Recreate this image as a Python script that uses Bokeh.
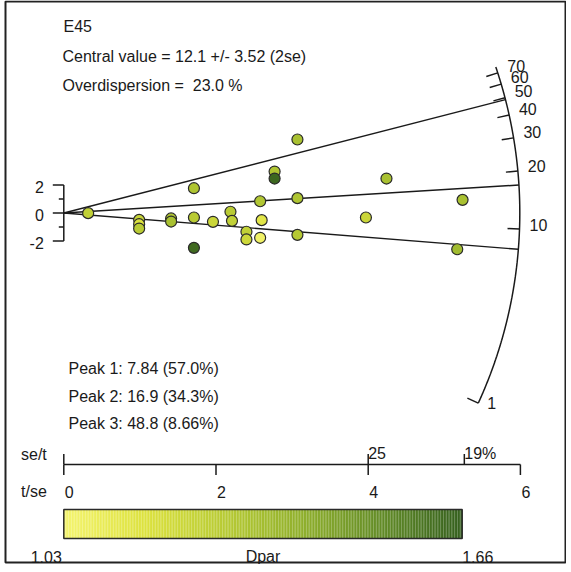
import numpy as np
from bokeh.plotting import figure
from bokeh.models import Range1d, LinearColorMapper, ColumnDataSource
from bokeh.core.properties import value
from bokeh.embed import file_html
from bokeh.resources import INLINE

# ---------------- data ----------------
sample_name = "E45"
central_age = 12.1
central_text = "Central value = 12.1 +/- 3.52 (2se)"
overdisp_text = "Overdispersion = \u00a023.0 %"
peak_ages = [7.84, 16.9, 48.8]
peak_texts = ["Peak 1: 7.84 (57.0%)", "Peak 2: 16.9 (34.3%)", "Peak 3: 48.8 (8.66%)"]

# precision (t/se) and standardised estimate of each grain
precision = [0.32, 0.99, 0.99, 0.99, 1.41, 1.41, 1.71, 1.71, 1.71, 1.96, 2.19, 2.21, 2.40,
             2.40, 2.58, 2.60, 2.58, 2.77, 2.77, 3.07, 3.07, 3.07, 3.97, 4.24, 5.24, 5.17]
std_est = [-0.01, -0.49, -0.80, -1.11, -0.39, -0.61, 1.77, -0.32, -2.49, -0.63, 0.09, -0.56, -1.34,
           -1.89, 0.84, -0.51, -1.77, 2.96, 2.46, 5.25, 1.06, -1.56, -0.32, 2.46, 0.94, -2.59]
dpar = [1.25, 1.23, 1.16, 1.28, 1.31, 1.33, 1.31, 1.28, 1.63, 1.22, 1.28, 1.25, 1.25,
        1.21, 1.30, 1.13, 1.05, 1.31, 1.64, 1.33, 1.31, 1.29, 1.22, 1.33, 1.33, 1.35]
dpar_low, dpar_high = 1.03, 1.66
dpar_title = "Dpar"

arc_ticks = [1, 10, 20, 30, 40, 50, 60, 70]
arc_max_age = 76
tse_ticks = [0, 2, 4, 6]
set_ticks_pct = [25, 19]
set_labels = ["25", "19%"]
y_ticks = [-2, -1, 0, 1, 2]
y_labels = {-2: "-2", 0: "0", 2: "2"}

# ---------------- layout (picture pixel coordinates) ----------------
W, H = 566, 564
PAGE_L, PAGE_T = 0, 8
ORIGIN_X, ORIGIN_Y = 63.3, 220.5     # position of the radial origin
PX, PY = 76.1, 14.0                  # pixels per unit along x and y
R = 456.0                            # radius of the age arc (px)
CB_L, CB_R = 63.3, 461.7             # colour bar extent

x_range = Range1d((PAGE_L - ORIGIN_X) / PX, (PAGE_L + W - ORIGIN_X) / PX)
y_range = Range1d((ORIGIN_Y - (PAGE_T + H)) / PY, (ORIGIN_Y - PAGE_T) / PY)

p = figure(width=W, height=H, x_range=x_range, y_range=y_range,
           output_backend="svg", toolbar_location=None, min_border=0,
           x_axis_location=None, y_axis_location=None, title=None)
p.grid.visible = False
p.outline_line_color = None
p.background_fill_color = "white"
p.border_fill_color = "white"

p.extra_x_ranges = {
    "px": Range1d(PAGE_L, PAGE_L + W),
    "dpar": Range1d(dpar_low - (CB_L - PAGE_L) * (dpar_high - dpar_low) / (CB_R - CB_L),
                    dpar_high + (PAGE_L + W - CB_R) * (dpar_high - dpar_low) / (CB_R - CB_L)),
}
p.extra_y_ranges = {"px": Range1d(PAGE_T + H, PAGE_T)}

FONT = value("Liberation Sans")
FS = "16px"
INK = "#1a1a1a"

# frame border
p.quad(left=[5], right=[565], top=[9], bottom=[570], x_range_name="px", y_range_name="px",
       fill_color=None, line_color="#222222", line_width=2)


def radial(t, r_px):
    s = np.log(np.asarray(t, dtype=float) / central_age)
    th = np.arctan(s * PY / PX)
    return r_px * np.cos(th) / PX, r_px * np.sin(th) / PY


# arc
t_arc = np.geomspace(arc_ticks[0], arc_max_age, 300)
ax, ay = radial(t_arc, R)
p.line(ax, ay, line_color=INK, line_width=1.5)

# arc ticks
tx0, ty0 = radial(arc_ticks, R - 12)
tx1, ty1 = radial(arc_ticks, R)
p.segment(tx0, ty0, tx1, ty1, line_color=INK, line_width=1.5)
lx, ly = radial(arc_ticks, R + 10)
p.text(lx, ly, text=[str(t) for t in arc_ticks], text_font=FONT, text_font_size=FS,
       text_align="left", text_baseline="middle", y_offset=-4, text_color=INK)

# peak lines
ex, ey = radial(peak_ages, R)
p.multi_line([[0, x] for x in ex], [[0, y] for y in ey], line_color=INK, line_width=1.4)

# y bracket
p.line([0, 0], [min(y_ticks), max(y_ticks)], line_color=INK, line_width=1.5)
for yt in y_ticks:
    ln = 11 if yt in y_labels else 5
    p.segment(x0=-ln / PX, y0=yt, x1=0, y1=yt, line_color=INK, line_width=1.5)
p.text([-20 / PX] * len(y_labels), list(y_labels.keys()), text=list(y_labels.values()),
       text_font=FONT, text_font_size=FS, text_align="right", text_baseline="middle",
       y_offset=2, text_color=INK)

# points
anchors = ["#F4F46E", "#DDE23E", "#B8CB34", "#8FAF2C", "#628B27", "#35601E"]


def hex2rgb(h):
    return np.array([int(h[i:i + 2], 16) for i in (1, 3, 5)], dtype=float)


anc = np.array([hex2rgb(a) for a in anchors])
pos = np.linspace(0, 1, len(anchors))
palette = []
for f in np.linspace(0, 1, 256):
    rgb = [np.interp(f, pos, anc[:, k]) for k in range(3)]
    palette.append("#%02x%02x%02x" % tuple(int(round(c)) for c in rgb))
mapper = LinearColorMapper(palette=palette, low=dpar_low, high=dpar_high)

src = ColumnDataSource(dict(x=precision, y=std_est, d=dpar))
p.scatter("x", "y", source=src, size=11, fill_color={"field": "d", "transform": mapper},
          line_color="#2a2a2a", line_width=1.2)

# bottom precision axis
AXIS_Y = 472
p.segment(x0=tse_ticks[0], y0=AXIS_Y, x1=tse_ticks[-1], y1=AXIS_Y, y_range_name="px",
          line_color=INK, line_width=1.5)
p.segment(x0=tse_ticks, y0=[AXIS_Y] * len(tse_ticks), x1=tse_ticks, y1=[AXIS_Y + 10.5] * len(tse_ticks),
          y_range_name="px", line_color=INK, line_width=1.5)
set_x = [0] + [100.0 / s for s in set_ticks_pct]
p.segment(x0=set_x, y0=[AXIS_Y] * len(set_x), x1=set_x, y1=[AXIS_Y - 10.5] * len(set_x),
          y_range_name="px", line_color=INK, line_width=1.5)
p.text(tse_ticks, [499] * len(tse_ticks), text=[str(t) for t in tse_ticks], y_range_name="px",
       text_font=FONT, text_font_size=FS, text_align="left", text_baseline="alphabetic",
       x_offset=1, text_color=INK)
p.text(set_x[1:], [460.5] * len(set_labels), text=set_labels, y_range_name="px",
       text_font=FONT, text_font_size=FS, text_align="left", text_baseline="alphabetic",
       x_offset=0, text_color=INK)
p.text([20.5, 20.5], [462, 499], text=["se/t", "t/se"], x_range_name="px", y_range_name="px",
       text_font=FONT, text_font_size=FS, text_align="left", text_baseline="alphabetic",
       text_color=INK)

# colour bar
edges = np.linspace(dpar_low, dpar_high, len(palette) + 1)
p.quad(left=edges[:-1], right=edges[1:], bottom=546, top=517, x_range_name="dpar",
       y_range_name="px", fill_color=palette, line_color=None)
p.quad(left=[dpar_low], right=[dpar_high], bottom=[546], top=[517], x_range_name="dpar",
       y_range_name="px", fill_color=None, line_color="#2a2a2a", line_width=1.5)
p.text([dpar_low], [564], text=["%.2f" % dpar_low], x_range_name="dpar", y_range_name="px",
       text_font=FONT, text_font_size=FS, text_align="right", text_baseline="alphabetic",
       x_offset=-2, text_color=INK)
p.text([dpar_high], [564], text=["%.2f" % dpar_high], x_range_name="dpar", y_range_name="px",
       text_font=FONT, text_font_size=FS, text_align="left", text_baseline="alphabetic",
       text_color=INK)
p.text([(dpar_low + dpar_high) / 2], [564], text=[dpar_title], x_range_name="dpar", y_range_name="px",
       text_font=FONT, text_font_size=FS, text_align="center", text_baseline="alphabetic",
       text_color=INK)

# header and peak texts
p.text([63, 62, 62], [34, 64, 93], text=[sample_name, central_text, overdisp_text],
       x_range_name="px", y_range_name="px", text_font=FONT, text_font_size=FS,
       text_align="left", text_baseline="alphabetic", text_color=INK)
p.text([68] * 3, [376, 404, 431], text=peak_texts, x_range_name="px", y_range_name="px",
       text_font=FONT, text_font_size=FS, text_align="left", text_baseline="alphabetic",
       text_color=INK)

open("out.html", "w").write(file_html(p, INLINE))
